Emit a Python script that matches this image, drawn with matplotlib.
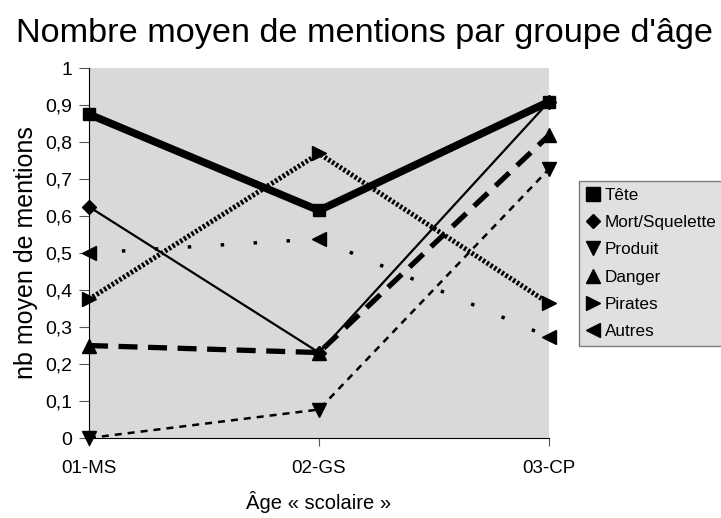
import numpy as np
import matplotlib.pyplot as plt
from matplotlib.lines import Line2D
from matplotlib.ticker import FuncFormatter

plt.rcParams['font.family'] = ['Liberation Sans', 'DejaVu Sans']

groupes = ['01-MS', '02-GS', '03-CP']
tete = [0.875, 0.615, 0.909]
mort = [0.625, 0.231, 0.909]
produit = [0.0, 0.077, 0.727]
danger = [0.25, 0.231, 0.818]
pirates = [0.375, 0.769, 0.364]
autres = [0.5, 0.538, 0.273]

x = np.arange(len(groupes))

fig = plt.figure(figsize=(7.21, 5.18), dpi=100)
ax = fig.add_axes([0.1234, 0.1544, 0.638, 0.7143])
ax.set_facecolor('#d9d9d9')

ax.plot(x, autres, color='black', lw=2.5, dashes=(1, 8.5), marker='<', ms=10, clip_on=False)
ax.plot(x, produit, color='black', lw=1.8, dashes=(2.8, 2.4), marker='v', ms=10, clip_on=False)
ax.plot(x, danger, color='black', lw=3.8, dashes=(3.6, 2), marker='^', ms=10, clip_on=False)
ax.plot(x, pirates, color='black', lw=3.6, dashes=(0.5, 0.4), marker='>', ms=10, clip_on=False)
ax.plot(x, mort, color='black', lw=1.6, marker='D', ms=7, clip_on=False)
ax.plot(x, tete, color='black', lw=5.5, marker='s', ms=9, clip_on=False)

ax.set_xlim(0, 2)
ax.set_ylim(0, 1)
ax.set_xticks(x)
ax.set_xticklabels(groupes)
ax.set_yticks(np.arange(0, 1.01, 0.1))
ax.yaxis.set_major_formatter(FuncFormatter(lambda v, p: ('%g' % round(v, 1)).replace('.', ',')))
ax.tick_params(axis='x', labelsize=13.5, length=6, width=0.8, color='#555555', pad=10)
ax.tick_params(axis='y', labelsize=14, length=7, width=0.8, color='#555555', pad=5)
for s in ['top', 'right']:
    ax.spines[s].set_visible(False)

ax.set_ylabel('nb moyen de mentions', fontsize=18, labelpad=5)
ax.set_xlabel('Âge « scolaire »', fontsize=14.5, labelpad=10)
fig.text(364 / 721, 1 - 42 / 518, "Nombre moyen de mentions par groupe d'âge", fontsize=24.7,
         ha='center', va='baseline')

noms = ['Tête', 'Mort/Squelette', 'Produit', 'Danger', 'Pirates', 'Autres']
marqueurs = ['s', 'D', 'v', '^', '>', '<']
handles = [Line2D([], [], color='black', ls='none', marker=m, ms=9.5 if m != 'D' else 7.5) for m in marqueurs]
leg = fig.legend(handles, noms, loc='upper left', bbox_to_anchor=(0.803, 0.6506), fontsize=12.3,
                 frameon=True, fancybox=False, facecolor='#d9d9d9', edgecolor='#606060',
                 handlelength=0.8, handletextpad=0.3, borderpad=0.4, labelspacing=0.72, borderaxespad=0)
leg.get_frame().set_linewidth(1)

fig.savefig('out.png', dpi=100)
